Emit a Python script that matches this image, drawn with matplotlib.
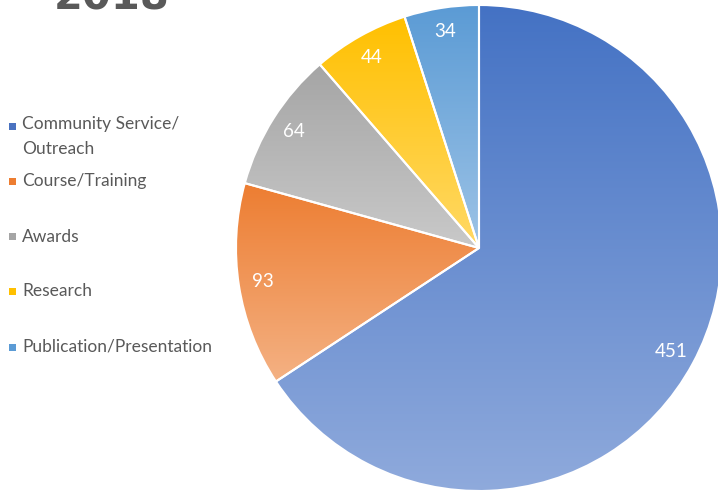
import numpy as np
import matplotlib
matplotlib.use("Agg")
import matplotlib.pyplot as plt
from matplotlib.colors import LinearSegmentedColormap
from matplotlib.patches import Rectangle

categories = ["Community Service/\nOutreach", "Course/Training", "Awards", "Research", "Publication/Presentation"]
values = [451, 93, 64, 44, 34]
title = "2018"

top_colors = ["#4472C4", "#ED7D31", "#A5A5A5", "#FFC000", "#5B9BD5"]
bot_colors = ["#8FAADC", "#F4B183", "#C9C9C9", "#FFD966", "#9DC3E6"]
mid_colors = ["#4A72C0", "#ED7D31", "#A5A5A5", "#FFC000", "#5B9BD5"]

plt.rcParams['font.family'] = ['Lato', 'DejaVu Sans']

W, H = 718, 491
fig = plt.figure(figsize=(W / 100, H / 100), dpi=100)
cx, cy, R = 479, 248, 243
ax = fig.add_axes([(cx - R) / W, (H - cy - R) / H, 2 * R / W, 2 * R / H])

total = sum(values)
wedges, texts, autotexts = ax.pie(
    values, startangle=90, counterclock=False, radius=1,
    autopct=lambda p: f"{round(p * total / 100)}", pctdistance=0.9,
    wedgeprops=dict(edgecolor="white", linewidth=1.5),
    textprops=dict(color="white", fontsize=13.5))
ax.set_xlim(-1, 1)
ax.set_ylim(-1, 1)
ax.axis("off")

grad = np.linspace(0, 1, 256).reshape(-1, 1)
for w, tc, bc in zip(wedges, top_colors, bot_colors):
    w.set_facecolor("none")
    verts = w.get_path().vertices
    trans = w.get_patch_transform()
    pts = trans.transform(verts)
    xmin, ymin = pts.min(axis=0)
    xmax, ymax = pts.max(axis=0)
    cmap = LinearSegmentedColormap.from_list("g", [tc, bc])
    im = ax.imshow(grad, cmap=cmap, extent=[xmin, xmax, ymin, ymax], aspect="auto",
                   origin="upper", zorder=0.5, interpolation="bilinear")
    im.set_clip_path(w)
    w.set_zorder(1)
ax.set_xlim(-1, 1)
ax.set_ylim(-1, 1)
for t in autotexts:
    t.set_zorder(3)

fig.text(112 / W, 1 + 2 / H, title, fontsize=30, fontweight="black", color="#595959",
         ha="center", va="center", family=["DejaVu Sans"])

label_y = [126, 181, 237, 291, 347]
for lab, y, c in zip(categories, label_y, mid_colors):
    fig.patches.append(Rectangle((9 / W, 1 - (y + 3.5) / H), 7 / W, 7 / H,
                                 transform=fig.transFigure, facecolor=c, edgecolor="none"))
    fig.text(22 / W, 1 - y / H, lab, fontsize=12.5, color="#595959", ha="left",
             va="top" if "\n" in lab else "center", linespacing=1.7)
fig.texts[-5].set_y(1 - (126 - 10) / H)

fig.savefig("out.png", dpi=100)
